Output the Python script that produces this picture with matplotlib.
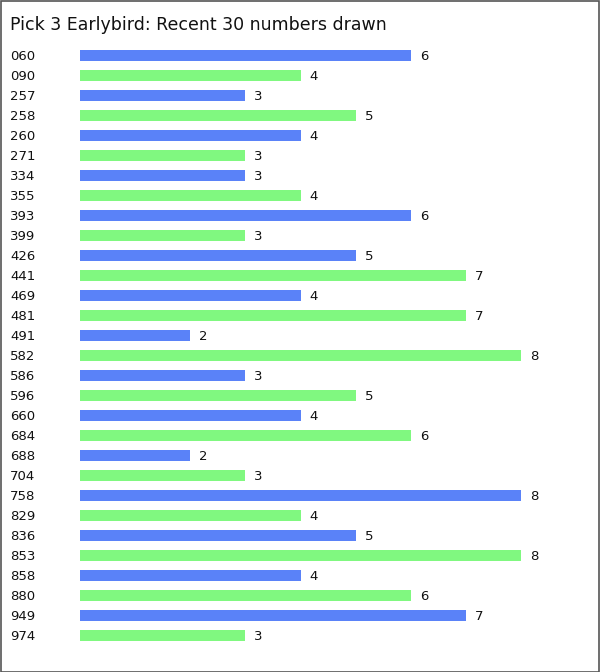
import matplotlib
matplotlib.use("Agg")
import matplotlib.pyplot as plt
from matplotlib.patches import Rectangle
from matplotlib.transforms import blended_transform_factory, offset_copy

numbers = ["060", "090", "257", "258", "260", "271", "334", "355", "393", "399",
           "426", "441", "469", "481", "491", "582", "586", "596", "660", "684",
           "688", "704", "758", "829", "836", "853", "858", "880", "949", "974"]
counts = [6, 4, 3, 5, 4, 3, 3, 4, 6, 3,
          5, 7, 4, 7, 2, 8, 3, 5, 4, 6,
          2, 3, 8, 4, 5, 8, 4, 6, 7, 3]
title = "Pick 3 Earlybird: Recent 30 numbers drawn"

BLUE = "#5a82f8"
GREEN = "#80f880"
W, H = 600, 672

plt.rcParams["font.family"] = ["DejaVu Sans"]
fig = plt.figure(figsize=(W / 100, H / 100), dpi=100)

# axes in pixel units: x 80..521 for 0..8, rows 45..645
ax = fig.add_axes([80 / W, 1 - 645 / H, 441 / W, 600 / H])
ax.set_xlim(0, 8)
ax.set_ylim(len(numbers) - 0.5, -0.5)
ax.axis("off")

colors = [BLUE if i % 2 == 0 else GREEN for i in range(len(numbers))]
ypos = list(range(len(numbers)))
ax.barh(ypos, counts, height=0.55, color=colors, linewidth=0)

lab_tr = offset_copy(blended_transform_factory(fig.transFigure, ax.transData),
                     fig=fig, x=0, y=-1.5, units="dots")
val_tr = offset_copy(ax.transData, fig=fig, x=9, y=-1.5, units="dots")
for y, num, c in zip(ypos, numbers, counts):
    ax.text(10 / W, y, num, transform=lab_tr, ha="left", va="center",
            fontsize=9.5, color="#111111")
    ax.text(c, y, str(c), transform=val_tr, ha="left", va="center",
            fontsize=9.5, color="#111111")

fig.text(10 / W, 1 - 25 / H, title, ha="left", va="center", fontsize=12.5,
         color="#111111")

fig.patches.append(Rectangle((0.5 / W, 0.5 / H), 1 - 1.5 / W, 1 - 1.5 / H,
                             transform=fig.transFigure, fill=False,
                             edgecolor="#555555", linewidth=1.2))

fig.savefig("out.png", dpi=100, facecolor="white")
